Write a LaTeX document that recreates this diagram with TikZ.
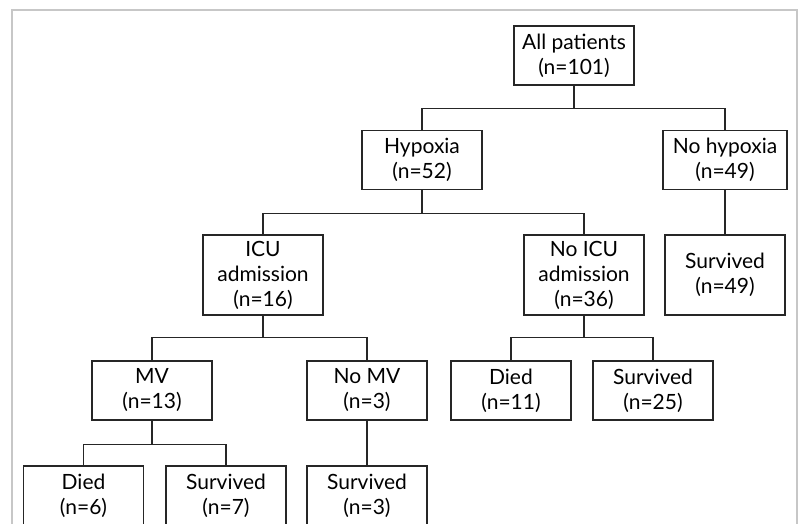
\documentclass[tikz,border=0pt]{standalone}
\usepackage{fontspec}
\setmainfont{Lato}
\usetikzlibrary{positioning}
\tikzset{
  box/.style={rectangle,draw=black!85,line width=1.1pt,align=center,minimum width=120pt,minimum height=59pt,inner sep=2pt,font=\fontsize{21}{25}\selectfont},
  link/.style={draw=black!85,line width=1.1pt},
  frame/.style={draw=black!22,line width=1.5pt}
}

\begin{document}
\begin{tikzpicture}[node distance=115pt, on grid]
    \useasboundingbox (0,0) rectangle (803pt,-524pt);
    \clip (0,0) rectangle (803pt,-524pt);
    \draw[frame] (12pt,-540pt) -- (12pt,-10pt) -- (797pt,-10pt) -- (797pt,-540pt);

    \node[box] (allp) at (574pt,-55.5pt) {All patients\\(n=101)};
    \node[box,below=104.5pt of allp, xshift=-152pt] (hyp) {Hypoxia\\(n=52)};
    \node[box,below=104.5pt of allp, xshift=151pt, minimum width=124pt] (nohyp) {No hypoxia\\(n=49)};
    \node[box,below=of hyp, xshift=-159pt, minimum height=80pt] (icu) {ICU\\admission\\(n=16)};
    \node[box,below=of hyp, xshift=162pt, minimum height=80pt] (noicu) {No ICU\\admission\\(n=36)};
    \node[box,below=of nohyp, minimum height=80pt] (surv49) {Survived\\(n=49)};
    \node[box,below=115.5pt of icu, xshift=-111pt] (mv) {MV\\(n=13)};
    \node[box,below=115.5pt of icu, xshift=104pt] (nomv) {No MV\\(n=3)};
    \node[box,below=115.5pt of noicu, xshift=-73pt] (died11) {Died\\(n=11)};
    \node[box,below=115.5pt of noicu, xshift=69pt] (surv25) {Survived\\(n=25)};
    \node[box,below=105pt of mv, xshift=-68.5pt] (died6) {Died\\(n=6)};
    \node[box,below=105pt of mv, xshift=74pt] (surv7) {Survived\\(n=7)};
    \node[box,below=105pt of nomv] (surv3) {Survived\\(n=3)};

    % branches
    \draw[link] (allp.south) -- ++(0,-23pt) coordinate (b1) -| (hyp.north);
    \draw[link] (b1) -| (nohyp.north);
    \draw[link] (hyp.south) -- ++(0,-23pt) coordinate (b2) -| (icu.north);
    \draw[link] (b2) -| (noicu.north);
    \draw[link] (nohyp) -- (surv49);
    \draw[link] (icu.south) -- ++(0,-22pt) coordinate (b3) -| (mv.north);
    \draw[link] (b3) -| (nomv.north);
    \draw[link] (noicu.south) -- ++(0,-22pt) coordinate (b4) -| (died11.north);
    \draw[link] (b4) -| (surv25.north);
    \draw[link] (mv.south) -- ++(0,-24pt) coordinate (b5) -| (died6.north);
    \draw[link] (b5) -| (surv7.north);
    \draw[link] (nomv) -- (surv3);
\end{tikzpicture}
\end{document}
